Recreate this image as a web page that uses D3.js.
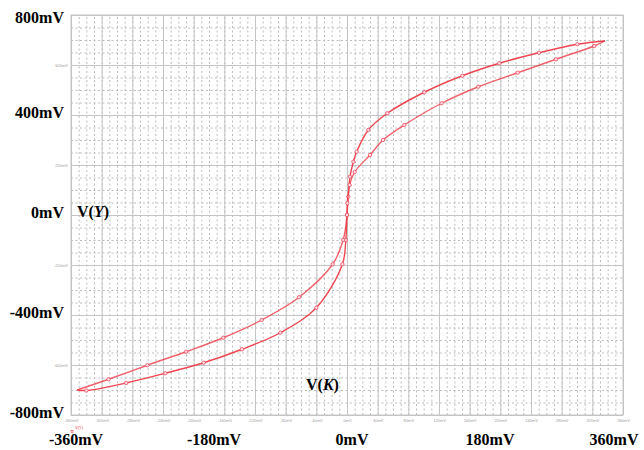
<!DOCTYPE html>
<html>
<head>
<meta charset="utf-8">
<script src="https://cdn.jsdelivr.net/npm/d3@7"></script>
<style>
body{margin:0;background:#fff;}
svg{display:block;}
</style>
</head>
<body>
<svg id="c_svg" width="644" height="450"></svg>
<script>
/*hysteresis V(Y) vs V(K)*/
var xMajor = [-360,-320,-280,-240,-200,-160,-120,-80,-40,0,40,80,120,160,200,240,280,320,360];
var yMajor = [600,200,-200,-600];
var xBig = [-360,-180,0,180,360];
var yBig = [800,400,0,-400,-800];
// branch that runs under on the left and over on the right (mV, mV)
var branchA = [
	[-352,-700],[-340,-702],[-288,-672],[-237,-633],[-187,-591],[-137,-537],
	[-87,-471],[-40,-371],[-6,-197],[-1.5,-100],[0,0],[1.7,73],[3.9,153],
	[8.3,213],[12.6,253],[27.8,340],[52.6,407],[100.8,491],[150.4,557],
	[198.6,607],[250.4,649],[300.4,683],[336.5,696]
];
// branch that runs over on the left and under on the right
var branchB = [
	[-352,-700],[-311,-657],[-260.5,-601],[-210,-547],[-161.4,-491],[-111.3,-420],
	[-62.6,-329],[-18.7,-197],[-5,-100],[0,0],[0.4,47],[3.5,120],[10,172],
	[30,240],[47,300],[74.7,360],[123.5,447],[171.3,513],[222.6,569],
	[272.6,623],[322.5,676],[336.5,696]
];

var svg = d3.select('#c_svg');
var x = d3.scaleLinear().domain([-360,360]).range([71,623]);
var y = d3.scaleLinear().domain([-800,800]).range([415,15]);
var fmt = function(d){ return d + 'mV'; };

// minor grid
svg.append('g')
	.attr('class','x_minor')
	.attr('transform','translate(0,415)')
	.call(d3.axisBottom(x).tickValues(d3.range(-360,361,10)).tickSize(-400).tickFormat(''))
	.call(function(g){
		g.select('.domain').remove();
		g.selectAll('line').attr('stroke','#bdbdbd').attr('stroke-dasharray','2,2.5');
	});
svg.append('g')
	.attr('class','y_minor')
	.attr('transform','translate(71,0)')
	.call(d3.axisLeft(y).tickValues(d3.range(-800,801,50)).tickSize(-552).tickFormat(''))
	.call(function(g){
		g.select('.domain').remove();
		g.selectAll('line').attr('stroke','#bdbdbd').attr('stroke-dasharray','2,2.5');
	});

// major grid + tiny tick labels
svg.append('g')
	.attr('class','x_major')
	.attr('transform','translate(0,415)')
	.call(d3.axisBottom(x).tickValues(xMajor).tickSize(-400).tickPadding(4).tickFormat(fmt))
	.call(function(g){
		g.select('.domain').remove();
		g.selectAll('line').attr('stroke','#c4c4c4').attr('stroke-width',1);
		g.selectAll('text').attr('font-size','4px').attr('fill','#a0a0a0').attr('font-family','Liberation Sans');
	});
svg.append('g')
	.attr('class','y_major')
	.attr('transform','translate(71,0)')
	.call(d3.axisLeft(y).tickValues(yMajor.concat(yBig)).tickSize(-552).tickPadding(3).tickFormat(function(d){
		return yBig.indexOf(d) < 0 ? fmt(d) : '';
	}))
	.call(function(g){
		g.select('.domain').remove();
		g.selectAll('line').attr('stroke','#c4c4c4').attr('stroke-width',1);
		g.selectAll('text').attr('font-size','4px').attr('fill','#a0a0a0').attr('font-family','Liberation Sans');
	});
svg.append('rect')
	.attr('x',71).attr('y',15).attr('width',552).attr('height',400)
	.attr('fill','none').attr('stroke','#c4c4c4').attr('stroke-width',1);

// curves
var line = d3.line()
	.x(function(d){ return x(d[0]); })
	.y(function(d){ return y(d[1]); })
	.curve(d3.curveCatmullRom.alpha(0.5));
var c_g = svg.append('g').attr('class','c_g');
[branchA, branchB].forEach(function(b, i){
	c_g.append('path')
		.attr('d', line(b))
		.attr('fill','none')
		.attr('stroke','#ee3b47')
		.attr('stroke-opacity', i == 0 ? 0.95 : 0.8)
		.attr('stroke-width',1.4);
	c_g.selectAll('.m' + i)
		.data(b.slice(1, -1))
		.enter()
		.append('circle')
		.attr('class','m' + i)
		.attr('cx',function(d){ return x(d[0]); })
		.attr('cy',function(d){ return y(d[1]); })
		.attr('r',1.7)
		.attr('fill','#fde')
		.attr('stroke','#ee3b47')
		.attr('stroke-width',0.7);
});

// big labels
var t_g = svg.append('g')
	.attr('font-family','Liberation Serif')
	.attr('font-weight','bold')
	.attr('font-size','16px')
	.attr('fill','#000');
t_g.selectAll('.yl')
	.data(yBig)
	.enter()
	.append('text')
	.attr('class','yl')
	.attr('x',64)
	.attr('y',function(d){ return Math.max(y(d) + 2.5, 23); })
	.attr('text-anchor','end')
	.text(fmt);
t_g.selectAll('.xl')
	.data(xBig)
	.enter()
	.append('text')
	.attr('class','xl')
	.attr('x',function(d){ return d == 360 ? x(d) - 9 : x(d) + 5; })
	.attr('y',445)
	.attr('text-anchor','middle')
	.text(fmt);

var vy = t_g.append('text').attr('x',77).attr('y',217);
vy.append('tspan').text('V(');
vy.append('tspan').attr('font-style','italic').text('Y');
vy.append('tspan').text(')');
var vk = t_g.append('text').attr('x',306).attr('y',390);
vk.append('tspan').text('V(');
vk.append('tspan').attr('font-style','italic').text('K');
vk.append('tspan').text(')');

// tiny legend
svg.append('rect').attr('x',71).attr('y',430.5).attr('width',2).attr('height',2)
	.attr('fill','none').attr('stroke','#ee3b47').attr('stroke-width',0.6);
svg.append('text').attr('x',75).attr('y',429).attr('font-size','4px')
	.attr('fill','#ee3b47').attr('font-family','Liberation Sans').text('V(Y)');
</script>
</body>
</html>
